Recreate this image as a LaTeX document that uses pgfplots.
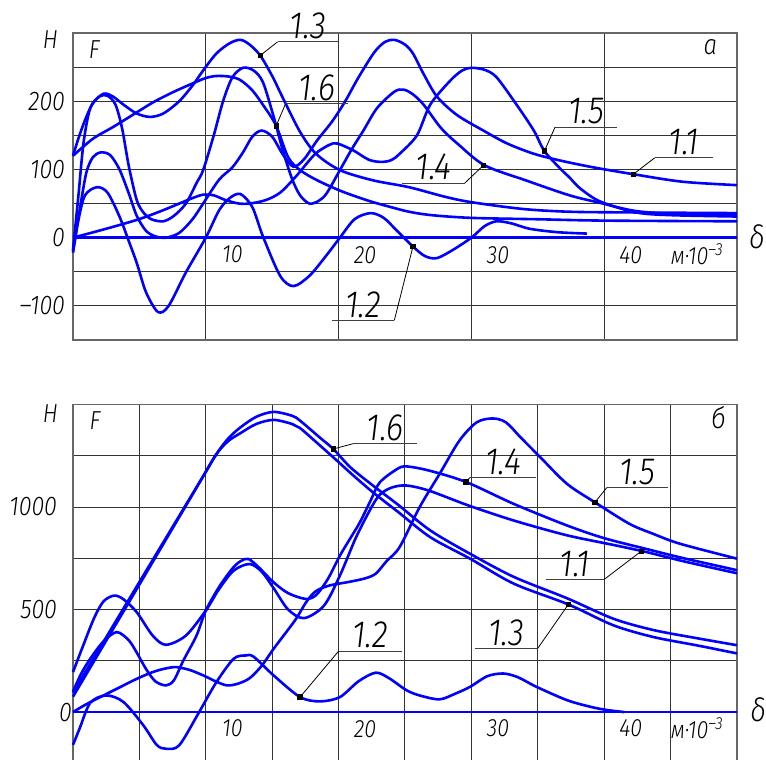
\documentclass[border=0pt]{standalone}
\usepackage{pgfplots}
\pgfplotsset{compat=1.18}
\usepackage{fontspec}
\setmainfont{Fira Sans}[UprightFont={* Light}, ItalicFont={* Light Italic}, FakeStretch=0.86]

\newcommand{\lbl}{\itshape\fontsize{19}{19}\selectfont}
\newcommand{\tk}{\itshape\fontsize{12.5}{12.5}\selectfont}

% callout: #1 underline end joined to the leader, #2 other end, #3 underline height,
% #4 centre of the text, #5 text, #6/#7 point on the curve
\newcommand{\callout}[7]{%
  \draw[black!75, line width=0.5pt] (axis cs:#1,#3) -- (axis cs:#2,#3);
  \draw[black, line width=0.4pt] (axis cs:#1,#3) -- (axis cs:#6,#7);
  \node[anchor=south, inner sep=1.2pt, font=\lbl] at (axis cs:#4,#3) {#5};
}

\pgfplotsset{
  chart/.style={
    scale only axis, width=332pt, xmin=0, xmax=50, clip=false,
    axis line style={black!60, line width=0.9pt},
    major tick length=0pt, minor tick length=0pt,
    grid=both,
    major grid style={black!80, line width=0.5pt},
    minor grid style={black!80, line width=0.5pt},
    xticklabels={},
    yticklabel style={font=\itshape\fontsize{13.5}{13.5}\selectfont, anchor=east},
  },
  curve/.style={blue, line width=1.3pt, smooth},
}

\begin{document}
\begin{tikzpicture}
\path[use as bounding box] (0,0) rectangle (383pt,-380pt);

% ---------- panel a ----------
\begin{axis}[chart, at={(36.5pt,-16.5pt)}, anchor=north west, height=153.5pt,
  ymin=-150, ymax=300, xtick={10,20,30,40},
  ytick={-100,0,100,200}, minor ytick={-150,-50,50,150,250},
  yticklabels={–100,0,100,200}, yticklabel style={xshift=-0.5pt}]

\addplot[blue, line width=1.3pt] coordinates {(0,0) (50,0)};

% 1.1
\addplot[curve] coordinates {(0,-20) (0.5,40) (1.0,95) (1.5,118) (2.1,125) (2.8,121) (3.5,100) (4.2,65) (4.8,32) (5.5,10) (6.2,2) (7,0) (8,7) (9,27) (9.8,50) (11,85) (12,103) (12.8,125) (13.5,148) (14.2,157) (15,148) (15.8,122) (16.6,104) (17.4,115) (18.4,143) (19.5,170) (20.5,200) (21.5,235) (22.7,272) (23.5,287) (24.2,290) (25,283) (25.6,270) (26.4,240) (27.4,207) (28.9,180) (30.9,157) (32.7,138) (34.7,123) (36.7,113) (39.2,103) (42.2,93) (45.9,82) (50,77)};
% 1.2
\addplot[curve] coordinates {(0,-22) (0.4,25) (0.9,62) (1.8,74) (2.6,66) (3.5,31) (4.2,-5) (4.8,-37) (5.5,-80) (6.4,-109) (7.2,-100) (8.5,-51) (10,0) (11,40) (11.8,58) (12.6,64) (13.5,45) (14.3,2) (15.6,-56) (16.6,-71) (17.8,-56) (19,-28) (20.1,0) (21.2,27) (22.4,36) (23.4,29) (24.4,10) (25.6,-13) (26.5,-27) (27.4,-30) (28.6,-18) (30,0) (31,17) (31.9,24) (33,21) (34.4,13) (36.5,8) (38.7,6)};
% 1.3
\addplot[curve] coordinates {(0,120) (0.4,145) (0.9,172) (1.5,197) (2.3,211) (3,207) (3.8,195) (4.8,182) (5.8,177) (6.8,182) (8,200) (9,223) (9.8,245) (10.8,270) (11.8,285) (12.6,290) (13.3,283) (14.1,267) (15,237) (15.8,205) (17.1,155) (18.3,123) (20.1,99) (22.6,84) (25.3,74) (28,60) (30,52) (33.9,42) (37.4,38) (42,37) (50,36)};
% 1.4
\addplot[curve] coordinates {(0,-18) (0.4,60) (0.8,140) (1.3,190) (2,207) (2.6,208) (3.2,195) (3.7,160) (4.2,105) (4.8,55) (5.3,37) (5.9,27) (6.8,24) (7.6,32) (8.5,50) (9.3,80) (9.8,99) (10.6,150) (11.3,200) (12,235) (12.8,249) (13.6,245) (14.3,228) (15.1,178) (15.8,128) (16.5,86) (17.1,62) (17.8,50) (18.5,54) (19.1,65) (20.1,99) (21,130) (21.9,158) (22.9,190) (24.2,214) (24.9,217) (25.6,210) (26.4,195) (27.7,161) (29,137) (31,106) (34.1,84) (37.4,62) (39.7,51) (42.4,39) (46,34) (50,33)};
% 1.5
\addplot[curve] coordinates {(0,0) (2.3,12) (4.8,26) (6.5,38) (8,50) (9,58) (9.8,63) (10.6,62) (11.5,55) (12.5,50) (13.3,50) (14.5,55) (15.6,66) (16.8,90) (18.2,122) (19.3,136) (19.9,138) (21.1,128) (22.3,114) (23.3,111) (24,114) (24.6,123) (25.9,150) (26.9,195) (28.4,230) (29.3,245) (30,249) (31,246) (31.9,235) (33.4,195) (34.7,157) (35.5,127) (36.7,101) (37.4,88) (38.2,72) (39.7,53) (42.4,37) (45,33) (50,31)};
% 1.6
\addplot[curve] coordinates {(0,120) (1.5,145) (3,162) (4.5,180) (6,198) (7.5,213) (9,226) (10,234) (10.8,237) (11.8,236) (12.6,231) (13.5,216) (14.4,192) (15.3,164) (16.2,118) (17.1,99) (18.4,84) (20.1,69) (21.5,59) (22.6,52) (23.9,45) (25.3,38) (27,33) (30,29) (35,27) (40,25) (50,24)};

\addplot[only marks, mark=square*, mark size=1.1pt, black] coordinates {(14.1,267) (15.3,164) (25.6,-13) (30.9,106) (35.5,127) (42.2,93)};

\callout{15.4}{20.0}{287}{17.7}{1.3}{14.1}{267}
\callout{16.0}{20.7}{196}{18.35}{1.6}{15.3}{164}
\callout{24.2}{19.5}{-121}{21.85}{1.2}{25.6}{-13}
\callout{29.5}{24.8}{80}{27.15}{1.4}{30.9}{106}
\callout{36.3}{41.0}{162}{38.65}{1.5}{35.5}{127}
\callout{43.8}{48.2}{117}{46.0}{1.1}{42.2}{93}

\node[font=\tk] at (axis cs:12,-24) {10};
\node[font=\tk] at (axis cs:22,-25) {20};
\node[font=\tk] at (axis cs:32,-25) {30};
\node[font=\tk] at (axis cs:42,-25) {40};
\node[font=\tk] at (axis cs:47,-24) {м·10\textsuperscript{–3}};
\node[font=\itshape\fontsize{13}{13}\selectfont] at (axis cs:-1.7,290) {Н};
\node[font=\itshape\fontsize{13}{13}\selectfont] at (axis cs:1.6,275) {F};
\node[font=\itshape\fontsize{14}{14}\selectfont] at (axis cs:48,279) {а};
\node[font=\itshape\fontsize{16}{16}\selectfont] at (axis cs:51.5,1) {δ};
\end{axis}

% ---------- panel b ----------
\begin{axis}[chart, at={(36.5pt,-202.25pt)}, anchor=north west, height=179.4pt,
  ymin=-250, ymax=1500, xtick={10,20,30,40}, minor xtick={5,15,25,35,45},
  ytick={500,1000}, minor ytick={-250,0,250,750,1250},
  yticklabels={500,1000}, yticklabel style={xshift=-4.5pt}]

\addplot[blue, line width=1.3pt] coordinates {(0,0) (50,0)};

% 1.1
\addplot[curve] coordinates {(0,195) (0.8,330) (1.6,460) (2.3,540) (3.1,568) (3.8,550) (4.8,487) (6,373) (7,328) (8.5,373) (10,495) (11,600) (12.1,690) (13.3,722) (14.2,685) (15.1,605) (16.2,500) (17.4,458) (18.9,519) (20.1,666) (21.3,850) (22.4,990) (23.1,1060) (24,1095) (25.1,1105) (26.8,1080) (29.8,1007) (33.2,934) (37.2,862) (40.7,815) (43.2,780) (46,735) (50,677)};
% 1.2
\addplot[curve] coordinates {(0,-160) (0.5,-80) (1.3,45) (2.5,81) (3.8,49) (5.3,-65) (6.3,-160) (7,-179) (8,-162) (9.5,0) (10.8,146) (12.1,260) (13,276) (13.6,270) (15.1,179) (17.1,73) (18.6,52) (20.1,73) (21.5,150) (22.8,192) (23.8,165) (25.1,107) (26.1,81) (27.6,62) (28.8,90) (29.9,123) (31.2,175) (32.4,188) (33.5,170) (34.9,123) (37.2,58) (39,25) (40.2,10) (41.5,0)};
% 1.3
\addplot[curve] coordinates {(0,95) (5,634) (9.5,1118) (10.8,1258) (11.7,1322) (12.6,1360) (13.8,1405) (15.1,1425) (16.5,1405) (17.1,1385) (18.6,1300) (19.9,1225) (21,1160) (22.6,1071) (24.5,975) (26.9,853) (29.9,748) (33.2,626) (37.3,525) (40.7,423) (43.7,366) (47,325) (50,286)};
% 1.4
\addplot[curve] coordinates {(0,100) (0.6,185) (1.3,260) (2.3,345) (3.3,390) (4.2,350) (4.8,290) (5.5,210) (6.2,150) (7,130) (7.6,155) (8.3,250) (9.3,373) (10,495) (11,610) (12,700) (12.6,735) (13.2,747) (14,705) (15.1,633) (16.2,580) (17.5,552) (18.3,570) (19.2,650) (20.1,763) (21,860) (21.6,925) (22.4,1030) (23.1,1120) (24.4,1185) (25.1,1198) (26.8,1178) (29.6,1122) (33.2,1015) (37.2,910) (40,848) (43.2,795) (46,750) (50,692)};
% 1.5
\addplot[curve] coordinates {(0,0) (1,38) (2.3,81) (3.5,120) (4.8,162) (6,195) (7,213) (7.8,219) (8.8,205) (9.8,179) (10.8,148) (11.6,130) (12.4,138) (13.3,165) (14.2,225) (15.1,308) (16,385) (16.8,455) (17.6,540) (18.3,590) (19.3,617) (20.8,635) (22,652) (22.8,675) (23.6,735) (24.6,805) (26.1,999) (27.6,1161) (29.1,1324) (30.4,1413) (31.6,1432) (32.6,1413) (33.7,1340) (35.2,1242) (37.2,1113) (39.3,1023) (41.9,918) (43.7,869) (45.7,821) (50,748)};
% 1.6
\addplot[curve] coordinates {(0,75) (5,622) (9.5,1116) (10.8,1258) (11.7,1335) (12.6,1388) (13.8,1440) (15.1,1464) (16.5,1445) (17.1,1421) (18.6,1338) (19.6,1283) (20.9,1193) (22.6,1104) (24.5,1010) (26.9,886) (29.9,772) (33.2,659) (37.2,555) (40.7,455) (43.7,400) (47,360) (50,326)};

\addplot[only marks, mark=square*, mark size=1.1pt, black] coordinates {(19.6,1283) (29.6,1122) (39.3,1023) (42.8,785) (37.3,525) (17.1,73)};

\callout{21.1}{25.9}{1309}{23.5}{1.6}{19.6}{1283}
\callout{29.9}{34.9}{1144}{32.4}{1.4}{29.6}{1122}
\callout{40.2}{44.8}{1095}{42.5}{1.5}{39.3}{1023}
\callout{40.0}{35.6}{647}{37.8}{1.1}{42.8}{785}
\callout{35.0}{30.3}{311}{32.65}{1.3}{37.3}{525}
\callout{20.0}{24.8}{297}{22.4}{1.2}{17.1}{73}

\node[font=\itshape\fontsize{13.5}{13.5}\selectfont, anchor=east, xshift=3pt] at (axis cs:0,0) {0};
\node[font=\tk] at (axis cs:12,-78) {10};
\node[font=\tk] at (axis cs:22,-85) {20};
\node[font=\tk] at (axis cs:32,-78) {30};
\node[font=\tk] at (axis cs:42,-78) {40};
\node[font=\tk] at (axis cs:47,-78) {м·10\textsuperscript{–3}};
\node[font=\itshape\fontsize{13}{13}\selectfont] at (axis cs:-1.7,1455) {Н};
\node[font=\itshape\fontsize{13}{13}\selectfont] at (axis cs:1.65,1421) {F};
\node[font=\itshape\fontsize{15}{15}\selectfont] at (axis cs:48.6,1435) {б};
\node[font=\itshape\fontsize{16}{16}\selectfont] at (axis cs:51.6,10) {δ};
\end{axis}
\end{tikzpicture}
\end{document}
